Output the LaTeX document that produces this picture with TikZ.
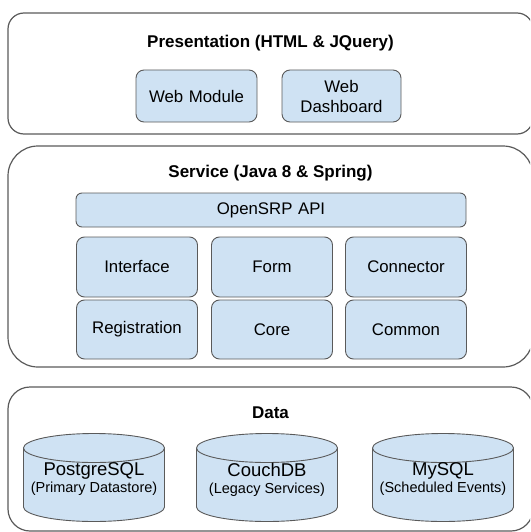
\documentclass[tikz,border=0pt]{standalone}
\usepackage{fontspec}
\setmainfont{Liberation Sans}
\definecolor{boxblue}{HTML}{CFE2F3}
\definecolor{edgegray}{HTML}{5A5A5A}
\newcommand{\storenote}[1]{{\fontsize{14.5}{17}\selectfont #1}}
\begin{document}
\begin{tikzpicture}[x=1pt, y=-1pt,
        layer/.style={rectangle, draw=edgegray, line width=1.2pt, minimum width=525pt},
        layer_title/.style={font=\fontsize{17}{20}\selectfont\bfseries},
        module/.style={rectangle, draw=edgegray, fill=boxblue, line width=0.9pt, rounded corners=8pt, text width=110pt, align=center, minimum width=121pt, minimum height=60pt, font=\fontsize{16.8}{20}\selectfont},
        store/.style={draw=edgegray, fill=boxblue, line width=0.9pt},
        store_label/.style={align=center, font=\fontsize{18.5}{17}\selectfont}
    ]
        \useasboundingbox (0,0) rectangle (530,532);
        \clip (0,0) rectangle (530,532);

        % Presentation layer
        \node[layer, minimum height=121pt, rounded corners=16pt] (presentation) at (270.5,73.5) {};
        \node[layer_title] (presentation_title) at (270.5,43) {Presentation (HTML \& JQuery)};
        \node[module, minimum height=52pt] (web_module) at (196.5,96) {Web Module};
        \node[module, minimum height=52pt, minimum width=119pt] (web_dashboard) at (341.5,96) {Web\\Dashboard};

        % Service layer
        \node[layer, minimum height=221pt, rounded corners=30pt] (service) at (270.5,256.5) {};
        \node[layer_title] (service_title) at (270.5,173) {Service (Java 8 \& Spring)};
        \node[module, minimum width=390pt, text width=380pt, minimum height=34pt, rounded corners=6pt] (api) at (271,210) {OpenSRP API};
        \node[module] (interface) at (137,267) {Interface};
        \node[module] (form) at (272,267) {Form};
        \node[module] (connector) at (406,267) {Connector};
        \node[module, minimum height=59pt] (registration) at (137,329.5) {Registration};
        \node[module, minimum height=59pt] (core) at (272,329.5) {Core};
        \node[module, minimum height=59pt] (common) at (406,329.5) {Common};

        % Data layer
        \node[layer, minimum height=144pt, rounded corners=22pt] (data) at (270.5,459) {};
        \node[layer_title] (data_title) at (270.5,413) {Data};

        % cylinders: body, then front rim of the lid
        \foreach \cx in {94,267,443} {
            \draw[store] (\cx-70.5,448) -- (\cx-70.5,507)
                arc[start angle=180, end angle=360, x radius=70.5pt, y radius=14.5pt]
                -- (\cx+70.5,448)
                arc[start angle=0, end angle=180, x radius=70.5pt, y radius=14.5pt] -- cycle;
            \draw[store, fill=none] (\cx-70.5,448)
                arc[start angle=180, end angle=360, x radius=70.5pt, y radius=14.5pt];
        }
        \node[store_label] (postgres) at (94,479.5) {PostgreSQL\\\storenote{(Primary Datastore)}};
        \node[store_label] (couchdb) at (267,479.5) {CouchDB\\\storenote{(Legacy Services)}};
        \node[store_label] (mysql) at (443,479.5) {MySQL\\\storenote{(Scheduled Events)}};
    \end{tikzpicture}
\end{document}
